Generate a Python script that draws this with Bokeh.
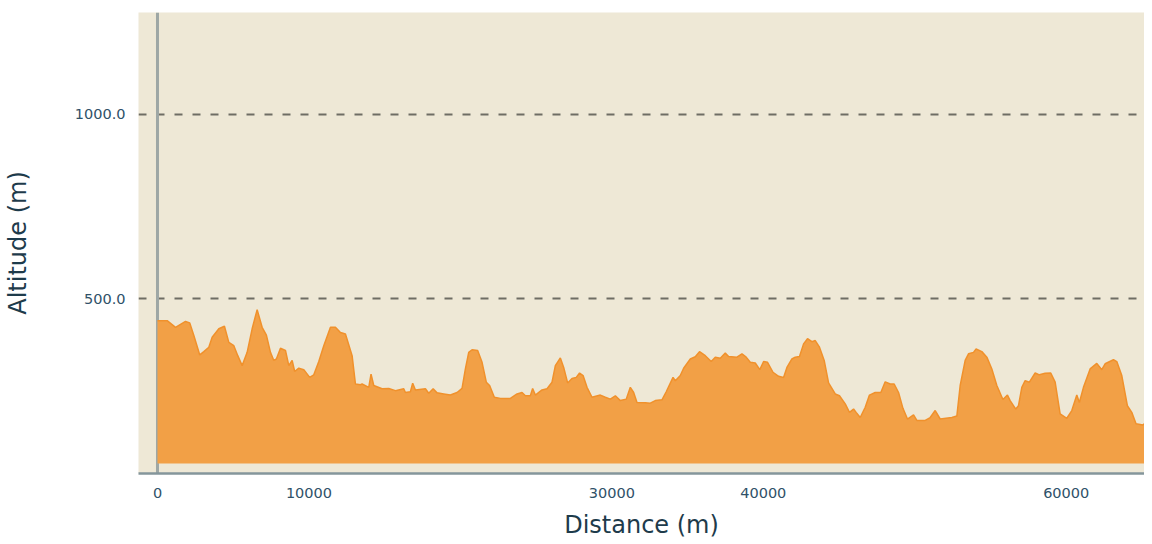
from bokeh.plotting import figure
from bokeh.models import FixedTicker, PrintfTickFormatter, Span, Range1d
from bokeh.embed import file_html
from bokeh.resources import INLINE

# Distance along the route (m) and altitude (m)
distance = [0, 640, 1190, 1850, 2130, 2400, 2790, 3060, 3390, 3610, 4050, 4420, 4710, 5040,
            5300, 5590, 5920, 6250, 6580, 6910, 7190, 7460, 7680, 7850, 8120, 8450, 8670, 8890,
            9060, 9330, 9660, 10050, 10320, 10650, 10980, 11420, 11750, 12080, 12410, 12850,
            13070, 13400, 13510, 13950, 14100, 14280, 14830, 15270, 15710, 16260, 16370, 16700,
            16850, 17030, 17690, 17910, 18200, 18460, 18900, 19340, 19780, 20110, 20330, 20550,
            20770, 21140, 21430, 21710, 21930, 22240, 22640, 23300, 23740, 24070, 24290, 24620,
            24770, 24950, 25390, 25720, 26050, 26270, 26600, 26820, 27080, 27370, 27650, 27870,
            28100, 28360, 28690, 29240, 29570, 29900, 30230, 30560, 30950, 31220, 31440, 31660,
            32210, 32540, 32870, 33310, 33590, 34040, 34190, 34520, 34740, 35180, 35510, 35790,
            36170, 36560, 36830, 37160, 37490, 37710, 38260, 38590, 38870, 39140, 39470, 39770,
            40020, 40280, 40640, 41010, 41340, 41560, 41890, 42110, 42390, 42660, 42920, 43210,
            43430, 43710, 44020, 44310, 44750, 45030, 45410, 45690, 45960, 46130, 46400, 46730,
            47010, 47390, 47760, 48050, 48380, 48640, 48930, 49220, 49520, 49920, 50140, 50690,
            51020, 51350, 51680, 52450, 52780, 53000, 53330, 53550, 53880, 54050, 54430, 54760,
            55090, 55420, 55820, 56120, 56300, 56670, 56850, 57070, 57290, 57570, 57950, 58230,
            58610, 58980, 59270, 59600, 60040, 60370, 60700, 60870, 61140, 61580, 62020, 62350,
            62570, 63120, 63340, 63670, 64040, 64330, 64610, 65060, 65160]
altitude = [440, 440, 422, 438, 434, 400, 347, 356, 368, 395, 418, 425, 381, 372,
            345, 318, 354, 418, 470, 422, 401, 354, 332, 336, 365, 359, 318, 332,
            302, 311, 307, 286, 293, 329, 372, 422, 422, 408, 404, 345,
            268, 266, 268, 259, 295, 264, 255, 256, 250, 255, 245, 247,
            270, 252, 255, 243, 255, 244, 241, 238, 245, 256, 309, 354,
            361, 359, 327, 273, 264, 232, 229, 229, 241, 245, 236, 236,
            256, 238, 252, 255, 273, 318, 339, 313, 271, 283, 286, 298,
            291, 259, 232, 238, 232, 227, 236, 223, 227, 259, 245, 218,
            217, 216, 223, 225, 247, 286, 277, 291, 311, 336, 342, 356,
            345, 329, 341, 338, 352, 343, 341, 350, 341, 327, 325, 307,
            329, 327, 300, 289, 286, 313, 336, 341, 343, 377, 391, 383,
            386, 368, 332, 271, 241, 236, 214, 191, 200, 191, 177, 205,
            238, 245, 245, 274, 268, 268, 245, 202, 173, 184, 169, 169,
            177, 196, 173, 177, 181, 264, 332, 350, 354, 363, 356, 341,
            309, 264, 226, 238, 223, 200, 209, 259, 277, 273, 298, 293,
            297, 298, 273, 187, 175, 196, 238, 218, 259, 309, 324, 307,
            323, 334, 329, 291, 209, 191, 160, 157, 160]
base_altitude = 52

x_ticks = [0, 10000, 30000, 40000, 60000]
y_ticks = [500, 1000]

p = figure(width=1144, height=541, output_backend="svg", toolbar_location=None,
           x_range=Range1d(-1254, 65170), y_range=Range1d(25, 1277),
           min_border_left=134, min_border_right=0, min_border_top=12, min_border_bottom=68,
           background_fill_color="#EEE8D6", border_fill_color="white", outline_line_color=None)

# vertical axis line at distance 0 (beneath the area)
p.add_layout(Span(location=0, dimension="height", line_color="#9EA7A5", line_width=3, level="underlay"))

p.varea(x=distance, y1=base_altitude, y2=altitude, fill_color="#F2A046", fill_alpha=1.0)
p.line(x=distance, y=altitude, line_color="#F0912C", line_width=1.5)

# x axis
p.xaxis.ticker = FixedTicker(ticks=x_ticks)
p.xaxis.axis_label = "Distance (m)"
p.xaxis.axis_line_color = "#84969B"
p.xaxis.axis_line_width = 2.5
p.xaxis.major_tick_line_color = None
p.xaxis.minor_tick_line_color = None
p.xaxis.major_label_standoff = 8
p.xaxis.axis_label_standoff = 10

# y axis
p.yaxis.ticker = FixedTicker(ticks=y_ticks)
p.yaxis.formatter = PrintfTickFormatter(format="%.1f")
p.yaxis.axis_label = "Altitude (m)"
p.yaxis.axis_line_color = None
p.yaxis.major_tick_line_color = None
p.yaxis.minor_tick_line_color = None
p.yaxis.major_label_standoff = 7
p.yaxis.axis_label_standoff = 40

for ax in (p.xaxis, p.yaxis):
    ax.major_label_text_font = "DejaVu Sans"
    ax.major_label_text_font_size = "14.5px"
    ax.major_label_text_color = "#2F5168"
    ax.axis_label_text_font = "DejaVu Sans"
    ax.axis_label_text_font_size = "24px"
    ax.axis_label_text_font_style = "normal"
    ax.axis_label_text_color = "#1E3B4B"

p.xgrid.grid_line_color = None
p.ygrid.ticker = FixedTicker(ticks=y_ticks)
p.ygrid.grid_line_color = "#6E6D64"
p.ygrid.grid_line_width = 2
p.ygrid.grid_line_dash = "8 10"

open("out.html", "w").write(file_html(p, INLINE))
